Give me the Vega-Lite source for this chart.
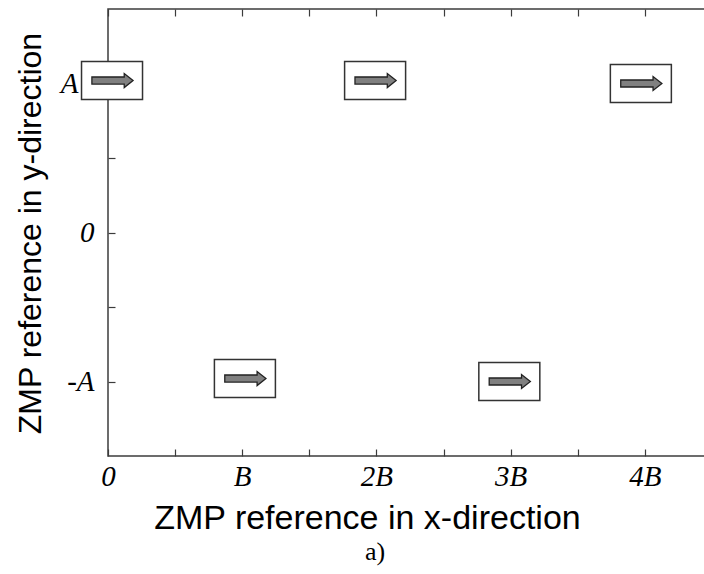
{
  "$schema": "https://vega.github.io/schema/vega-lite/v6.json",
  "width": 604,
  "height": 447,
  "autosize": {"type": "none"},
  "padding": {"left": 108, "top": 9, "right": 0, "bottom": 118},
  "background": "white",
  "config": {
    "view": {"stroke": "#3c3c3c", "strokeWidth": 1.5},
    "axis": {"grid": false, "domain": false, "tickColor": "#3c3c3c", "tickWidth": 1.2, "tickSize": -7}
  },
  "title": {"text": "a)", "orient": "bottom", "frame": "group", "font": "Liberation Serif", "fontSize": 26, "fontWeight": "normal", "color": "black", "anchor": "middle", "dx": -35, "offset": 4},
  "data": {"values": [
    {"step": 0.03, "side": 1.02},
    {"step": 1.02, "side": -0.98},
    {"step": 1.99, "side": 1.02},
    {"step": 2.99, "side": -1.0},
    {"step": 3.97, "side": 1.0}
  ]},
  "layer": [
    {
      "mark": {"type": "point", "shape": "M-1,-0.623H1V0.623H-1Z", "size": 3721, "filled": true, "fill": "white", "stroke": "#333333", "strokeWidth": 1.5, "opacity": 1},
      "encoding": {
        "x": {"field": "step", "type": "quantitative", "scale": {"domain": [0, 4.5], "nice": false, "zero": false},
          "axis": {"orient": "bottom", "values": [0, 0.5, 1, 1.5, 2, 2.5, 3, 3.5, 4, 4.5], "labelExpr": "datum.value == 0 ? '0' : datum.value == 1 ? 'B' : datum.value % 1 == 0 ? datum.value + 'B' : ''",
            "labelFont": "Liberation Serif", "labelFontStyle": "italic", "labelFontSize": 29, "labelColor": "black", "labelPadding": 13, "labelFlush": false, "labelOverlap": false,
            "title": "ZMP reference in x-direction", "titleFont": "Liberation Sans", "titleFontSize": 34, "titleFontWeight": "normal", "titleColor": "black", "titleX": 259, "titleY": 62, "titleAlign": "center", "titleBaseline": "middle"}},
        "y": {"field": "side", "type": "quantitative", "scale": {"domain": [-1.5, 1.5], "nice": false, "zero": false},
          "axis": {"orient": "left", "values": [-1, -0.5, 0, 0.5, 1], "labelExpr": "datum.value == 1 ? 'A' : datum.value == 0 ? '0' : datum.value == -1 ? '-A' : ''",
            "labelFont": "Liberation Serif", "labelFontStyle": "italic", "labelFontSize": 29, "labelColor": "black",
            "labelPadding": {"condition": {"test": "datum.value == 1", "value": 37}, "value": 21},
            "labelFlush": false, "labelOverlap": false, "labelBaseline": "middle",
            "title": "ZMP reference in y-direction", "titleFont": "Liberation Sans", "titleFontSize": 32, "titleFontWeight": "normal", "titleColor": "black", "titleX": -78, "titleY": 224, "titleAlign": "center", "titleBaseline": "middle", "titleAngle": -90}}
      }
    },
    {
      "mark": {"type": "point", "shape": "M-0.66,-0.115L0.4,-0.115L0.4,-0.23L0.69,0L0.4,0.23L0.4,0.115L-0.66,0.115Z", "size": 3721, "filled": true, "fill": "#808080", "stroke": "#222222", "strokeWidth": 1.3, "opacity": 1},
      "encoding": {
        "x": {"field": "step", "type": "quantitative", "axis": {"orient": "top", "values": [0, 0.5, 1, 1.5, 2, 2.5, 3, 3.5, 4, 4.5], "labels": false, "title": null}},
        "y": {"field": "side", "type": "quantitative", "axis": {"orient": "right", "values": [-1, -0.5, 0, 0.5, 1], "labels": false, "title": null}}
      }
    }
  ],
  "resolve": {"axis": {"x": "independent", "y": "independent"}}
}
